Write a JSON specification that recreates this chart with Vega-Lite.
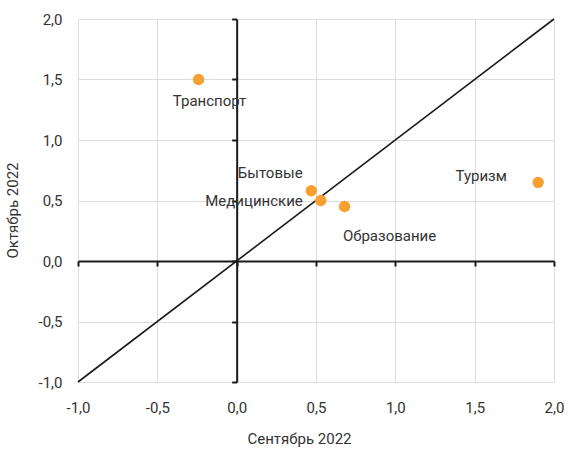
{
  "$schema": "https://vega.github.io/schema/vega-lite/v6.json",
  "width": 476,
  "height": 363,
  "autosize": {"type": "none"},
  "padding": {"left": 78, "top": 19, "right": 14, "bottom": 68},
  "config": {
    "view": {"stroke": null},
    "font": "Roboto",
    "axis": {
      "labelFont": "Roboto",
      "labelFontSize": 15,
      "labelColor": "#333333",
      "titleFont": "Roboto",
      "titleFontSize": 15,
      "titleFontWeight": "normal",
      "titleColor": "#333333"
    }
  },
  "datasets": {
    "pts": [
      {"name": "Транспорт", "sep": -0.24, "oct": 1.5},
      {"name": "Бытовые", "sep": 0.47, "oct": 0.58},
      {"name": "Медицинские", "sep": 0.53, "oct": 0.5},
      {"name": "Образование", "sep": 0.68, "oct": 0.45},
      {"name": "Туризм", "sep": 1.9, "oct": 0.65}
    ],
    "diag": [{"sep": -1, "oct": -1}, {"sep": 2, "oct": 2}]
  },
  "layer": [
    {
      "data": {"name": "diag"},
      "mark": {"type": "line", "color": "#1a1a1a", "strokeWidth": 1.6},
      "encoding": {
        "x": {
          "field": "sep", "type": "quantitative",
          "scale": {"domain": [-1, 2], "nice": false, "zero": false},
          "axis": {
            "orient": "bottom", "offset": -121, "labels": false, "grid": false,
            "title": null, "domain": true, "domainColor": "#1a1a1a", "domainWidth": 2,
            "ticks": true, "tickColor": "#1a1a1a", "tickWidth": 2, "tickSize": 5,
            "values": [-1, -0.5, 0, 0.5, 1, 1.5, 2]
          }
        },
        "y": {
          "field": "oct", "type": "quantitative",
          "scale": {"domain": [-1, 2], "nice": false, "zero": false},
          "axis": {
            "orient": "left", "offset": -158.67, "labels": false, "grid": false,
            "title": null, "domain": true, "domainColor": "#1a1a1a", "domainWidth": 2,
            "ticks": true, "tickColor": "#1a1a1a", "tickWidth": 2, "tickSize": 5,
            "values": [-1, -0.5, 0, 0.5, 1, 1.5, 2]
          }
        }
      }
    },
    {
      "data": {"name": "pts"},
      "mark": {"type": "circle", "color": "#F7A030", "opacity": 1, "size": 130},
      "encoding": {
        "x": {
          "field": "sep", "type": "quantitative",
          "axis": {
            "orient": "bottom", "title": "Сентябрь 2022", "grid": true, "gridColor": "#dddddd",
            "domain": false, "ticks": false, "labelPadding": 18, "labelFlush": false,
            "titleX": 221, "titleY": 56, "titleBaseline": "middle", "titleAlign": "center",
            "values": [-1, -0.5, 0, 0.5, 1, 1.5, 2],
            "labelExpr": "replace(replace(format(datum.value, '.1f'), '.', ','), '\u2212', '-')"
          }
        },
        "y": {
          "field": "oct", "type": "quantitative",
          "axis": {
            "orient": "left", "title": "Октябрь 2022", "grid": true, "gridColor": "#dddddd",
            "domain": false, "ticks": false, "labelPadding": 16, "labelFlush": false,
            "titleX": -66, "titleY": 191, "titleBaseline": "middle", "titleAlign": "center",
            "values": [-1, -0.5, 0, 0.5, 1, 1.5, 2],
            "labelExpr": "replace(replace(format(datum.value, '.1f'), '.', ','), '\u2212', '-')"
          }
        }
      }
    },
    {
      "data": {"name": "pts"},
      "transform": [{"filter": "datum.name == 'Транспорт'"}],
      "mark": {"type": "text", "fontSize": 15, "color": "#333333", "baseline": "middle", "align": "center", "dx": 11, "dy": 21},
      "encoding": {
        "x": {"field": "sep", "type": "quantitative", "axis": null},
        "y": {"field": "oct", "type": "quantitative", "axis": null},
        "text": {"field": "name"}
      }
    },
    {
      "data": {"name": "pts"},
      "transform": [{"filter": "datum.name == 'Бытовые'"}],
      "mark": {"type": "text", "fontSize": 15, "color": "#333333", "baseline": "middle", "align": "center", "dx": -41, "dy": -18},
      "encoding": {
        "x": {"field": "sep", "type": "quantitative", "axis": null},
        "y": {"field": "oct", "type": "quantitative", "axis": null},
        "text": {"field": "name"}
      }
    },
    {
      "data": {"name": "pts"},
      "transform": [{"filter": "datum.name == 'Медицинские'"}],
      "mark": {"type": "text", "fontSize": 15, "color": "#333333", "baseline": "middle", "align": "right", "dx": -18, "dy": 0},
      "encoding": {
        "x": {"field": "sep", "type": "quantitative", "axis": null},
        "y": {"field": "oct", "type": "quantitative", "axis": null},
        "text": {"field": "name"}
      }
    },
    {
      "data": {"name": "pts"},
      "transform": [{"filter": "datum.name == 'Образование'"}],
      "mark": {"type": "text", "fontSize": 15, "color": "#333333", "baseline": "middle", "align": "center", "dx": 45, "dy": 29},
      "encoding": {
        "x": {"field": "sep", "type": "quantitative", "axis": null},
        "y": {"field": "oct", "type": "quantitative", "axis": null},
        "text": {"field": "name"}
      }
    },
    {
      "data": {"name": "pts"},
      "transform": [{"filter": "datum.name == 'Туризм'"}],
      "mark": {"type": "text", "fontSize": 15, "color": "#333333", "baseline": "middle", "align": "center", "dx": -57, "dy": -6},
      "encoding": {
        "x": {"field": "sep", "type": "quantitative", "axis": null},
        "y": {"field": "oct", "type": "quantitative", "axis": null},
        "text": {"field": "name"}
      }
    }
  ],
  "resolve": {"axis": {"x": "independent", "y": "independent"}}
}
